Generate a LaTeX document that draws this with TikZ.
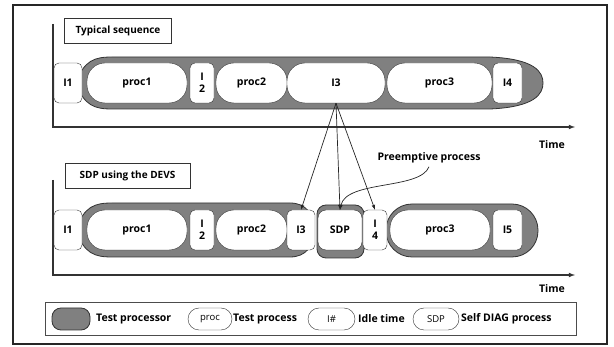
\documentclass[tikz,border=0pt]{standalone}
\usepackage{fontspec}
\setmainfont{Open Sans}
\usetikzlibrary{arrows}

\begin{document}
\begin{tikzpicture}[x = 1pt, y = -1pt, font = \fontsize{10.5}{10.5}\selectfont\bfseries]
\tikzstyle{IdleStyle}=[draw = black!80, fill = white, rounded corners = 5pt,
                         minimum height = 40pt, inner sep = 0pt, align = center,
                         font = \fontsize{10.5}{12}\selectfont\bfseries]
\tikzstyle{ProcStyle}=[draw = black!80, fill = white, rounded corners = 18pt,
                         minimum height = 40pt, inner sep = 0pt,
                         font = \fontsize{10.5}{12}\selectfont\bfseries]
\tikzstyle{CpuStyle}=[draw = black!80, fill = black!50, line width = 0.8pt]
\tikzstyle{AxisStyle}=[draw = black!80, line width = 1.1pt]
\tikzstyle{TitleStyle}=[draw = black!80, fill = white, inner sep = 0pt,
                         minimum height = 25pt, font = \fontsize{10}{10}\selectfont\bfseries]
\tikzstyle{KeyStyle}=[draw = black!80, fill = white, rounded corners = 11pt,
                         minimum height = 22pt, inner sep = 0pt, font = \fontsize{9.5}{9.5}\selectfont]
\tikzstyle{LinkStyle}=[-latex, draw = black!85, line width = 0.7pt]
\useasboundingbox (0,0) rectangle (614,347);
\draw[line width = 1.4pt, draw = black!85] (13,5) rectangle (607,344);
% typical sequence
\draw[AxisStyle, -latex] (53,24) -- (53,127) -- (575,127);
\node[TitleStyle, minimum width = 107pt] (title1) at (118,31) {Typical sequence};
\node (time1) at (552,145) {Time};
\path[CpuStyle] (76,83) .. controls (84,60) and (95,57) .. (112,57) -- (490,57)
    .. controls (535,59) and (543,72) .. (543,83)
    .. controls (543,94) and (535,107) .. (490,109) -- (112,109)
    .. controls (95,109) and (84,106) .. (76,83) -- cycle;
\node[IdleStyle, minimum width = 28pt] (a1) at (68,83) {I1};
\node[ProcStyle, minimum width = 100pt] (p1) at (137,83) {proc1};
\node[IdleStyle, minimum width = 24pt] (a2) at (202,83) {I\\2};
\node[ProcStyle, minimum width = 71pt] (p2) at (251.5,83) {proc2};
\node[ProcStyle, minimum width = 98pt] (a3) at (336,83) {I3};
\node[ProcStyle, minimum width = 105pt] (p3) at (439.5,83) {proc3};
\node[IdleStyle, minimum width = 29pt] (a4) at (507.5,83) {I4};
% SDP using the DEVS
\draw[AxisStyle, -latex] (53,180) -- (53,275) -- (575,275);
\node[TitleStyle, minimum width = 125pt] (title2) at (127.5,176) {SDP using the DEVS};
\node (time2) at (552,289) {Time};
\path[CpuStyle] (76,230) .. controls (84,206) and (95,203) .. (112,203) -- (290,203)
    .. controls (306,203) and (314,214) .. (314,230)
    .. controls (314,246) and (306,257) .. (290,257) -- (112,257)
    .. controls (95,257) and (84,254) .. (76,230) -- cycle;
\path[CpuStyle, rounded corners = 9pt] (317,205) rectangle (364,258);
\path[CpuStyle, rounded corners = 26pt] (386,204) rectangle (538,257);
\node[IdleStyle, minimum width = 28pt] (b1) at (68,230) {I1};
\node[ProcStyle, minimum width = 100pt] (q1) at (137,230) {proc1};
\node[IdleStyle, minimum width = 24pt] (b2) at (202,230) {I\\2};
\node[ProcStyle, minimum width = 71pt] (q2) at (251.5,230) {proc2};
\node[IdleStyle, minimum width = 28pt] (b3) at (301,230) {I3};
\node[IdleStyle, minimum width = 44pt, rounded corners = 8pt] (sdp) at (340,230) {SDP};
\node[IdleStyle, minimum width = 24pt] (b4) at (375,230) {I\\4};
\node[ProcStyle, minimum width = 100pt] (q3) at (440,230) {proc3};
\node[IdleStyle, minimum width = 29pt] (b5) at (507.5,230) {I5};
\draw[LinkStyle] (a3.south) -- (b3.north);
\draw[LinkStyle] (a3.south) -- (sdp.north);
\draw[LinkStyle] (a3.south) -- (b4.north);
\node (pre) at (429,158) {Preemptive process};
\draw[LinkStyle] (pre.south) .. controls (420,190) and (346,180) .. (sdp.north);
% legend
\draw[draw = black!70, line width = 0.8pt] (45,302) rectangle (576,335);
\node[CpuStyle, rounded corners = 9pt, minimum width = 38pt, minimum height = 22pt] (k1) at (71,319) {};
\node[anchor = west, inner sep = 0pt] (t1) at (96,319) {Test processor};
\node[KeyStyle, minimum width = 44pt] (k2) at (210,319) {proc};
\node[anchor = west, inner sep = 0pt] (t2) at (233,319) {Test process};
\node[KeyStyle, minimum width = 47pt] (k3) at (331.5,319) {I\#};
\node[anchor = west, inner sep = 0pt] (t3) at (358,319) {Idle time};
\node[KeyStyle, minimum width = 46pt] (k4) at (436,319) {SDP};
\node[anchor = west, inner sep = 0pt] (t4) at (461,319) {Self DIAG process};
\end{tikzpicture}
\end{document}
